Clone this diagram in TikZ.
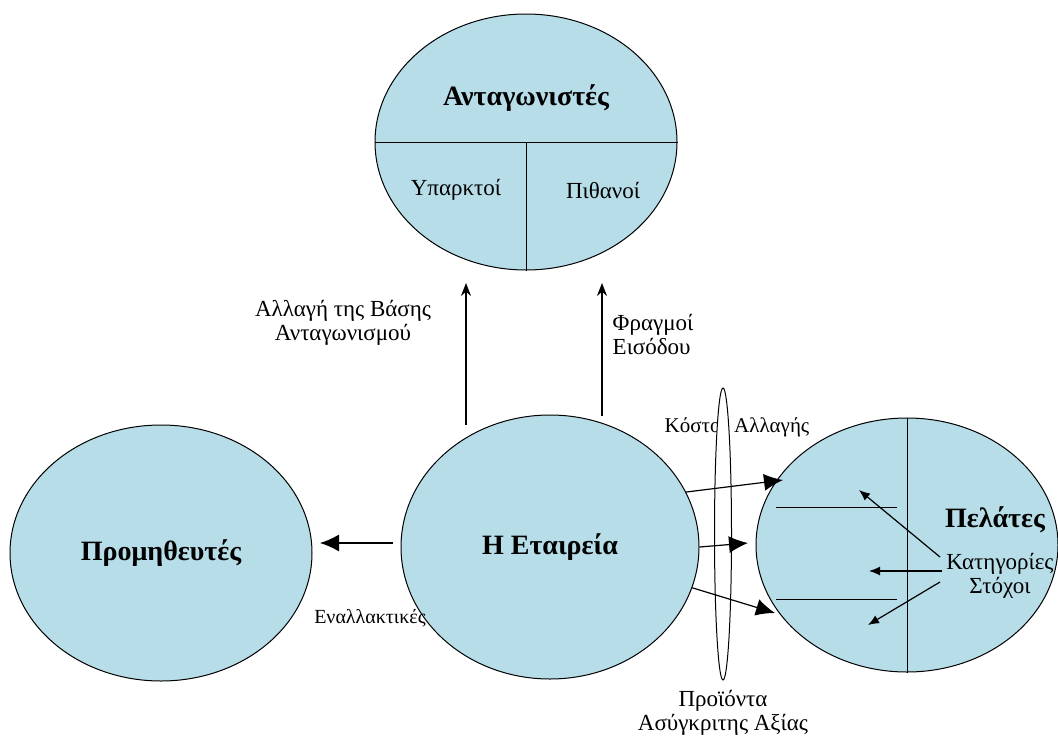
\documentclass[tikz,border=0pt]{standalone}
\usepackage{fontspec}
\setmainfont{Liberation Serif}
\usetikzlibrary{shapes.geometric,arrows.meta}

\definecolor{blobfill}{HTML}{B7DDE8}
\tikzset{
  blob/.style={ellipse, draw, line width=1pt, fill=blobfill, inner sep=0pt, minimum width=302pt, minimum height=256pt},
  bigtxt/.style={font=\fontsize{28}{32}\selectfont\bfseries},
  txt/.style={font=\fontsize{23}{24}\selectfont, align=center},
  smalltxt/.style={font=\fontsize{20}{22}\selectfont},
  bigarrow/.style={line width=1.2pt, -{Latex[length=19pt,width=17pt]}},
  uparrow/.style={line width=1.2pt, -{Stealth[length=13pt,width=10pt]}},
  smallarrow/.style={line width=1.2pt, -{Latex[length=11pt,width=9pt]}}
}

\begin{document}
\begin{tikzpicture}[x=1pt,y=-1pt]
\useasboundingbox (0,0) rectangle (1058,742);

% competitors
\node[blob] (comp) at (526,142) {};
\draw[line width=1pt] (comp.west) -- (comp.east);
\draw[line width=1pt] (comp.center) -- (comp.south);
\node[bigtxt] (comptitle) at (526,98) {Ανταγωνιστές};
\node[txt] (exist) at (456,190) {Υπαρκτοί};
\node[txt] (poss) at (603,190) {Πιθανοί};

% the firm and the suppliers
\node[blob, minimum width=298pt, minimum height=264pt, bigtxt] (firm) at (550,547) {Η Εταιρεία};
\node[blob, bigtxt] (supp) at (161,553) {Προμηθευτές};

% customers
\node[blob, minimum height=254pt] (cust) at (907,545) {};
\draw[line width=1pt] (cust.north) -- (cust.south);
\draw[line width=1pt] (776,507) -- (897,507);
\draw[line width=1pt] (776,599) -- (897,599);
\node[bigtxt] (custtitle) at (995,520) {Πελάτες};
\node[txt, inner sep=0pt] (target) at (1000,576) {Κατηγορίες\\Στόχοι};
\coordinate (t1) at (859,490);
\coordinate (t2) at (869,571);
\coordinate (t3) at (868,625);
\draw[smallarrow] (940,557) -- (t1);
\draw[smallarrow] (942,571) -- (t2);
\draw[smallarrow] (940,582) -- (t3);

% labels on the up arrows
\node[txt] (base) at (343,323) {Αλλαγή της Βάσης\\Ανταγωνισμού};
\node[txt, align=left] (entry) at (653,334) {Φραγμοί\\Εισόδου};
\coordinate (u1) at (466,425);
\coordinate (u2) at (602,416);
\draw[uparrow] (u1) -- (466,283);
\draw[uparrow] (u2) -- (602,283);

% switching costs and the lens
\node[txt, font=\fontsize{21}{22}\selectfont] (switch) at (737,427) {Κόστος Αλλαγής};
\node[ellipse, draw, fill=white, line width=1pt, inner sep=0pt, minimum width=17pt, minimum height=292pt] (lens) at (723,534) {};
\node[txt] (prod) at (723,713) {Προϊόντα\\Ασύγκριτης Αξίας};

% firm to customers
\draw[bigarrow] (firm.22) -- (783,480);
\draw[bigarrow] (firm.0) -- (748,543);
\draw[bigarrow] (firm.-16) -- (775,613);

% firm to suppliers
\coordinate (s1) at (393,543);
\draw[bigarrow] (s1) -- (320,543);
\node[smalltxt] (alt) at (370,618) {Εναλλακτικές};
\end{tikzpicture}
\end{document}
